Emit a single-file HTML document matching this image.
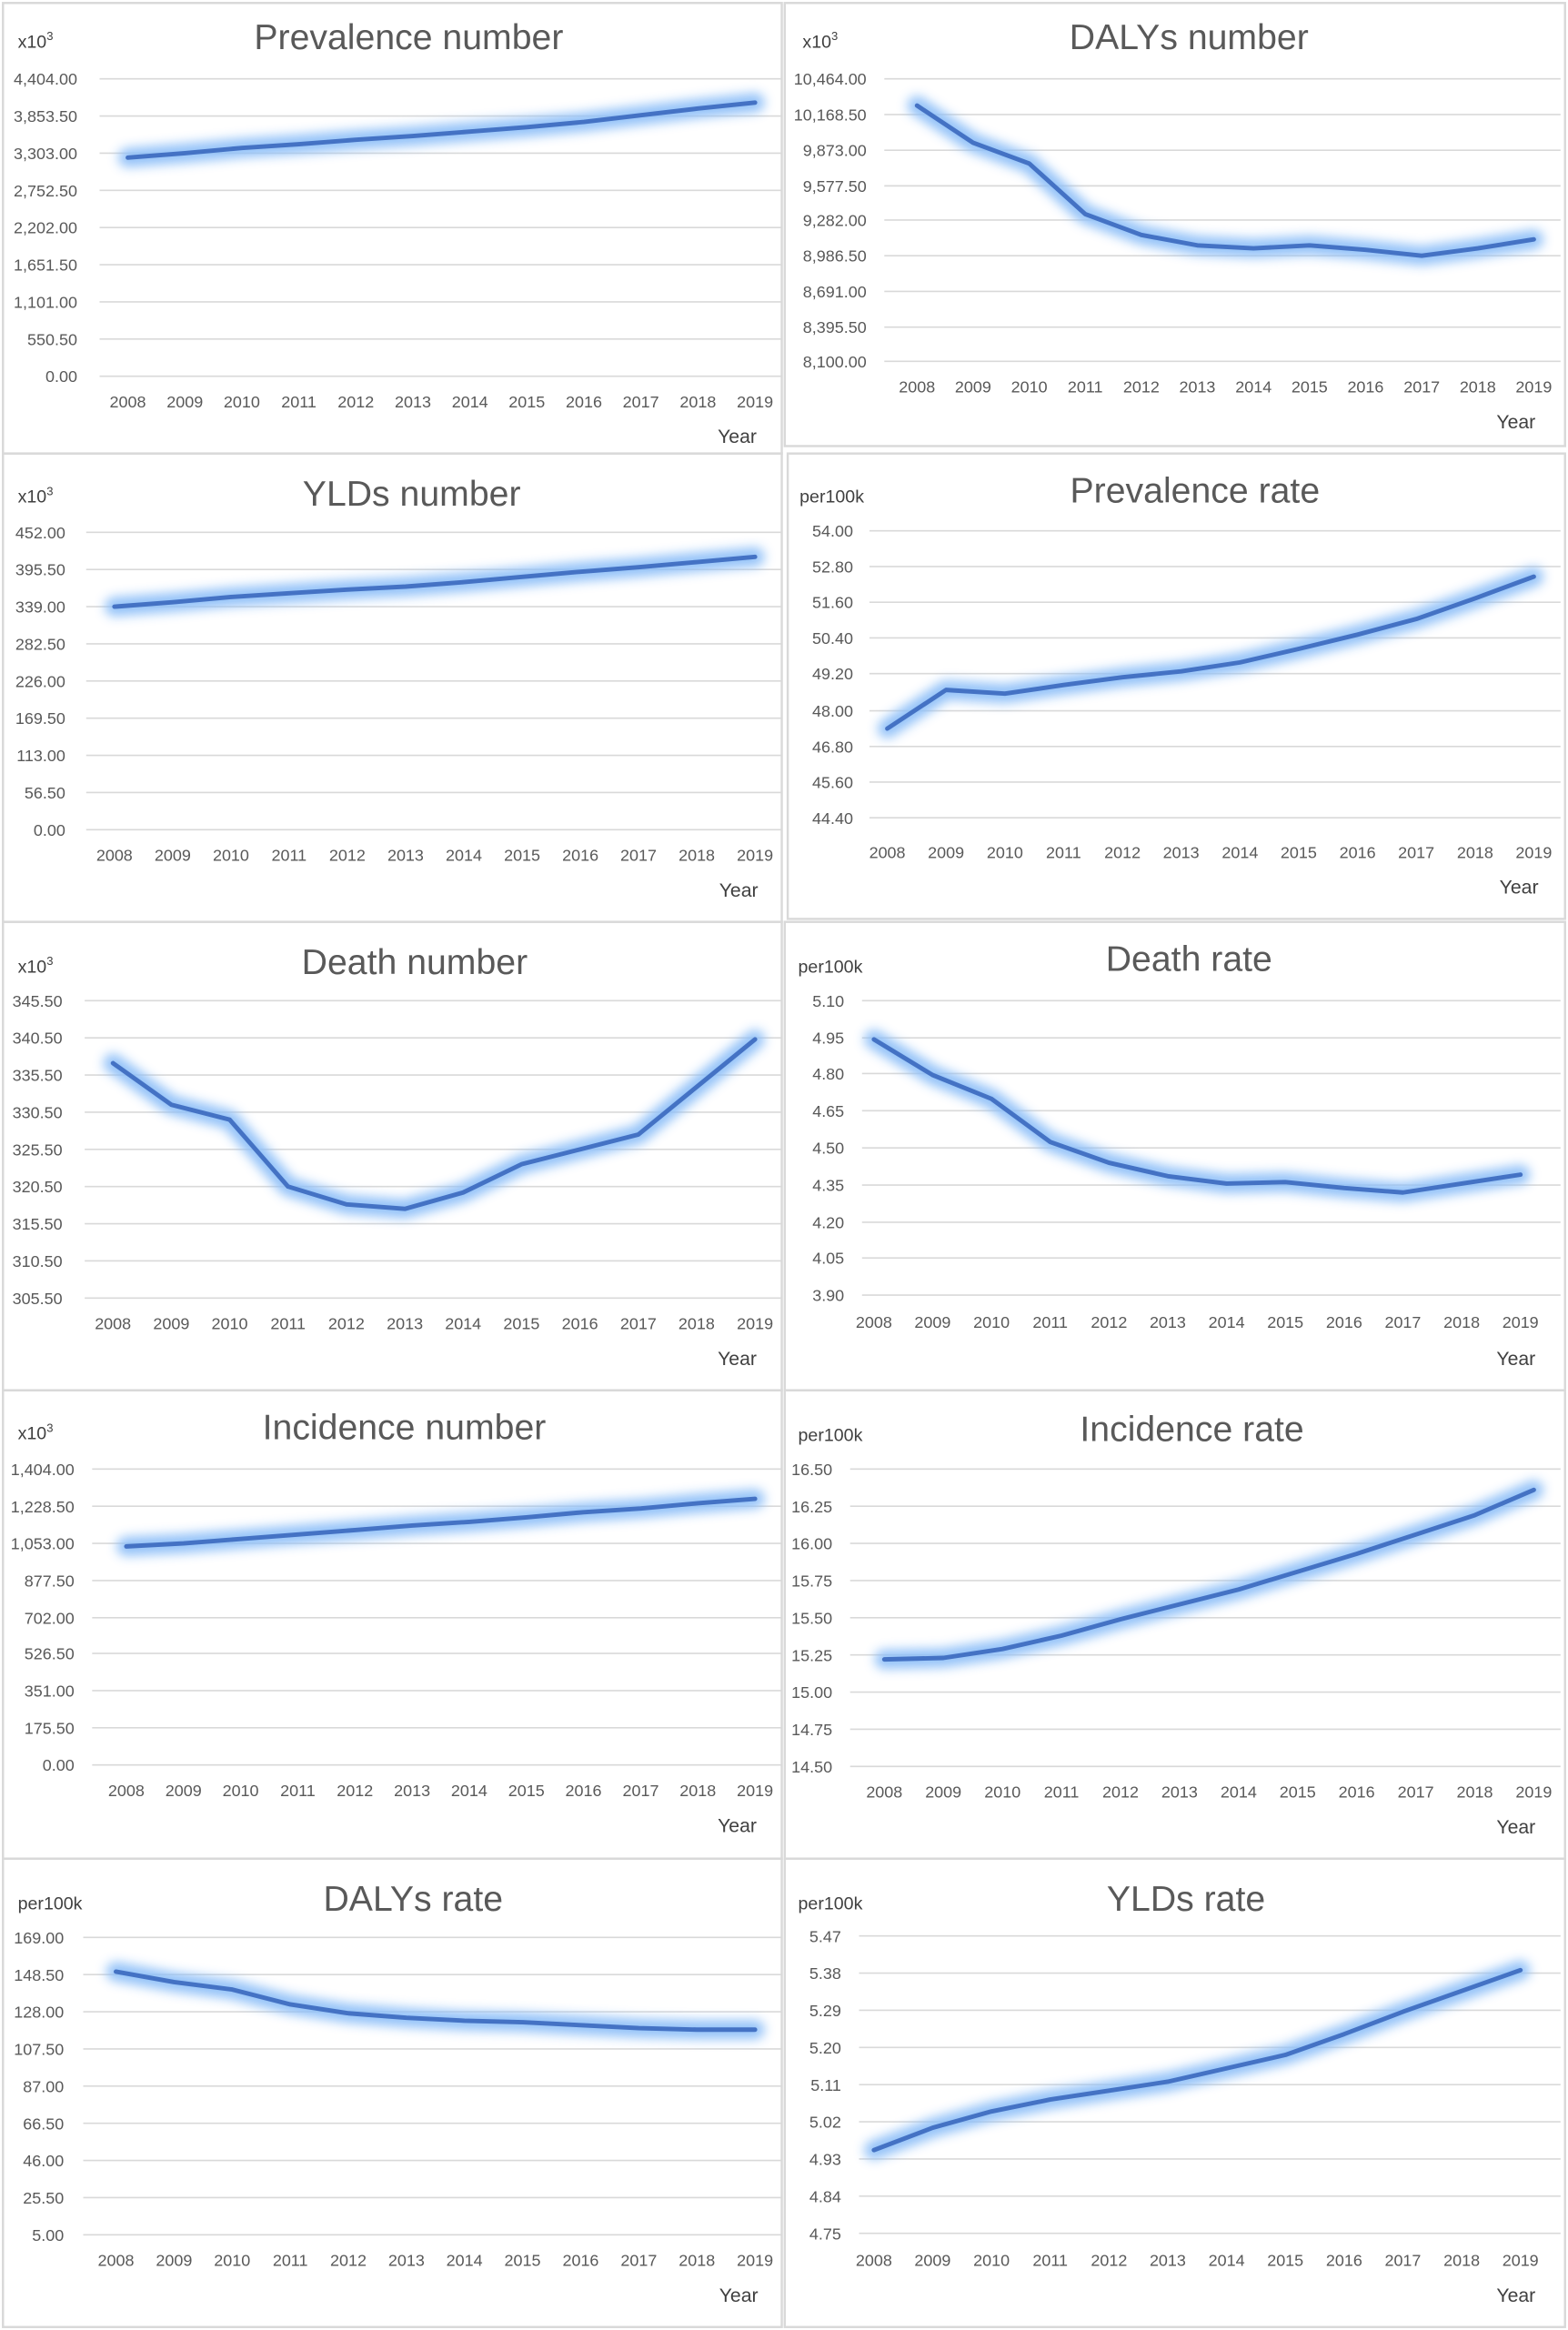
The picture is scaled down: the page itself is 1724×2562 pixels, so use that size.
<!DOCTYPE html>
<html><head><meta charset="utf-8"><style>
html,body{margin:0;padding:0;background:#fff}
svg{display:block}
.t{font-family:"Liberation Sans Narrow","Liberation Sans",sans-serif;fill:#595959;font-size:11px}
.y{text-anchor:end}
.x{text-anchor:middle}
.h{font-family:"Liberation Sans Narrow","Liberation Sans",sans-serif;fill:#595959;font-size:24px;text-anchor:middle}
.u{font-family:"Liberation Sans Narrow","Liberation Sans",sans-serif;fill:#404040;font-size:12px}
.yr{font-family:"Liberation Sans Narrow","Liberation Sans",sans-serif;fill:#404040;font-size:13px;text-anchor:middle}
.g{stroke:#d9d9d9;stroke-width:1}
.b{fill:none;stroke:#d9d9d9;stroke-width:1.5}
.gl{fill:none;stroke:#8fc0f8;stroke-width:13;stroke-linejoin:round;stroke-linecap:round;filter:url(#bl);opacity:.95}
.ln{fill:none;stroke:#4472c4;stroke-width:3;stroke-linejoin:round;stroke-linecap:round}
</style></head><body>
<svg width="1724" height="2562" viewBox="0 0 1055 1567" preserveAspectRatio="none" xmlns="http://www.w3.org/2000/svg">
<defs><filter id="bl" x="-10%" y="-50%" width="120%" height="200%"><feGaussianBlur stdDeviation="3.5"/></filter></defs>
<rect x="0" y="0" width="1055" height="1567" fill="#fff"/>

<!-- P1 -->
<rect class="b" x="2" y="2" width="524" height="303"/>
<text class="h" x="275" y="33">Prevalence number</text>
<text class="u" x="12" y="32">x10<tspan font-size="8" dy="-5">3</tspan></text>
<g class="g"><line x1="67" x2="526" y1="53" y2="53"/><line x1="67" x2="526" y1="78" y2="78"/><line x1="67" x2="526" y1="103" y2="103"/><line x1="67" x2="526" y1="128" y2="128"/><line x1="67" x2="526" y1="153" y2="153"/><line x1="67" x2="526" y1="178" y2="178"/><line x1="67" x2="526" y1="203" y2="203"/><line x1="67" x2="526" y1="228" y2="228"/><line x1="67" x2="526" y1="253" y2="253"/></g>
<g class="t y"><text x="52" y="57">4,404.00</text><text x="52" y="82">3,853.50</text><text x="52" y="107">3,303.00</text><text x="52" y="132">2,752.50</text><text x="52" y="157">2,202.00</text><text x="52" y="182">1,651.50</text><text x="52" y="207">1,101.00</text><text x="52" y="232">550.50</text><text x="52" y="257">0.00</text></g>
<g class="t x"><text x="86" y="274">2008</text><text x="124.4" y="274">2009</text><text x="162.7" y="274">2010</text><text x="201.1" y="274">2011</text><text x="239.4" y="274">2012</text><text x="277.8" y="274">2013</text><text x="316.2" y="274">2014</text><text x="354.5" y="274">2015</text><text x="392.9" y="274">2016</text><text x="431.2" y="274">2017</text><text x="469.6" y="274">2018</text><text x="508" y="274">2019</text></g>
<text class="yr" x="496" y="298">Year</text>
<polyline class="gl" points="86,106 124.4,103 162.7,99.5 201.1,97 239.4,94 277.8,91.5 316.2,88.5 354.5,85.5 392.9,82 431.2,77.5 469.6,73 508,69"/>
<polyline class="ln" points="86,106 124.4,103 162.7,99.5 201.1,97 239.4,94 277.8,91.5 316.2,88.5 354.5,85.5 392.9,82 431.2,77.5 469.6,73 508,69"/>

<!-- P2 -->
<rect class="b" x="528" y="2" width="525" height="298"/>
<text class="h" x="800" y="33">DALYs number</text>
<text class="u" x="540" y="32">x10<tspan font-size="8" dy="-5">3</tspan></text>
<g class="g"><line x1="595" x2="1050" y1="53" y2="53"/><line x1="595" x2="1050" y1="77" y2="77"/><line x1="595" x2="1050" y1="101" y2="101"/><line x1="595" x2="1050" y1="125" y2="125"/><line x1="595" x2="1050" y1="148" y2="148"/><line x1="595" x2="1050" y1="172" y2="172"/><line x1="595" x2="1050" y1="196" y2="196"/><line x1="595" x2="1050" y1="220" y2="220"/><line x1="595" x2="1050" y1="243" y2="243"/></g>
<g class="t y"><text x="583" y="57">10,464.00</text><text x="583" y="81">10,168.50</text><text x="583" y="105">9,873.00</text><text x="583" y="129">9,577.50</text><text x="583" y="152">9,282.00</text><text x="583" y="176">8,986.50</text><text x="583" y="200">8,691.00</text><text x="583" y="224">8,395.50</text><text x="583" y="247">8,100.00</text></g>
<g class="t x"><text x="617" y="264">2008</text><text x="654.7" y="264">2009</text><text x="692.5" y="264">2010</text><text x="730.2" y="264">2011</text><text x="767.9" y="264">2012</text><text x="805.6" y="264">2013</text><text x="843.4" y="264">2014</text><text x="881.1" y="264">2015</text><text x="918.8" y="264">2016</text><text x="956.6" y="264">2017</text><text x="994.3" y="264">2018</text><text x="1032" y="264">2019</text></g>
<text class="yr" x="1020" y="288">Year</text>
<polyline class="gl" points="617,71 654.7,96 692.5,110 730.2,144 767.9,158 805.6,165 843.4,167 881.1,165 918.8,168 956.6,172 994.3,167 1032,161"/>
<polyline class="ln" points="617,71 654.7,96 692.5,110 730.2,144 767.9,158 805.6,165 843.4,167 881.1,165 918.8,168 956.6,172 994.3,167 1032,161"/>

<!-- P3 -->
<rect class="b" x="2" y="305" width="524" height="315"/>
<text class="h" x="277" y="340">YLDs number</text>
<text class="u" x="12" y="338">x10<tspan font-size="8" dy="-5">3</tspan></text>
<g class="g"><line x1="58" x2="526" y1="358" y2="358"/><line x1="58" x2="526" y1="383" y2="383"/><line x1="58" x2="526" y1="408" y2="408"/><line x1="58" x2="526" y1="433" y2="433"/><line x1="58" x2="526" y1="458" y2="458"/><line x1="58" x2="526" y1="483" y2="483"/><line x1="58" x2="526" y1="508" y2="508"/><line x1="58" x2="526" y1="533" y2="533"/><line x1="58" x2="526" y1="558" y2="558"/></g>
<g class="t y"><text x="44" y="362">452.00</text><text x="44" y="387">395.50</text><text x="44" y="412">339.00</text><text x="44" y="437">282.50</text><text x="44" y="462">226.00</text><text x="44" y="487">169.50</text><text x="44" y="512">113.00</text><text x="44" y="537">56.50</text><text x="44" y="562">0.00</text></g>
<g class="t x"><text x="77" y="579">2008</text><text x="116.2" y="579">2009</text><text x="155.4" y="579">2010</text><text x="194.5" y="579">2011</text><text x="233.7" y="579">2012</text><text x="272.9" y="579">2013</text><text x="312.1" y="579">2014</text><text x="351.3" y="579">2015</text><text x="390.5" y="579">2016</text><text x="429.6" y="579">2017</text><text x="468.8" y="579">2018</text><text x="508" y="579">2019</text></g>
<text class="yr" x="497" y="603">Year</text>
<polyline class="gl" points="77,408 116.2,405 155.4,401.5 194.5,399 233.7,396.5 272.9,394.5 312.1,391.5 351.3,388 390.5,384.5 429.6,381.5 468.8,378 508,374.5"/>
<polyline class="ln" points="77,408 116.2,405 155.4,401.5 194.5,399 233.7,396.5 272.9,394.5 312.1,391.5 351.3,388 390.5,384.5 429.6,381.5 468.8,378 508,374.5"/>

<!-- P4 -->
<rect class="b" x="530" y="305" width="523" height="313"/>
<text class="h" x="804" y="338">Prevalence rate</text>
<text class="u" x="538" y="338">per100k</text>
<g class="g"><line x1="585" x2="1050" y1="357" y2="357"/><line x1="585" x2="1050" y1="381" y2="381"/><line x1="585" x2="1050" y1="405" y2="405"/><line x1="585" x2="1050" y1="429" y2="429"/><line x1="585" x2="1050" y1="453" y2="453"/><line x1="585" x2="1050" y1="478" y2="478"/><line x1="585" x2="1050" y1="502" y2="502"/><line x1="585" x2="1050" y1="526" y2="526"/><line x1="585" x2="1050" y1="550" y2="550"/></g>
<g class="t y"><text x="574" y="361">54.00</text><text x="574" y="385">52.80</text><text x="574" y="409">51.60</text><text x="574" y="433">50.40</text><text x="574" y="457">49.20</text><text x="574" y="482">48.00</text><text x="574" y="506">46.80</text><text x="574" y="530">45.60</text><text x="574" y="554">44.40</text></g>
<g class="t x"><text x="597" y="577">2008</text><text x="636.5" y="577">2009</text><text x="676.1" y="577">2010</text><text x="715.6" y="577">2011</text><text x="755.2" y="577">2012</text><text x="794.7" y="577">2013</text><text x="834.3" y="577">2014</text><text x="873.8" y="577">2015</text><text x="913.4" y="577">2016</text><text x="952.9" y="577">2017</text><text x="992.5" y="577">2018</text><text x="1032" y="577">2019</text></g>
<text class="yr" x="1022" y="601">Year</text>
<polyline class="gl" points="597,490 636.5,464 676.1,466.5 715.6,460.7 755.2,455.5 794.7,451.5 834.3,445.5 873.8,436.4 913.4,426.8 952.9,416.3 992.5,402.4 1032,387.8"/>
<polyline class="ln" points="597,490 636.5,464 676.1,466.5 715.6,460.7 755.2,455.5 794.7,451.5 834.3,445.5 873.8,436.4 913.4,426.8 952.9,416.3 992.5,402.4 1032,387.8"/>

<!-- P5 -->
<rect class="b" x="2" y="620" width="524" height="315"/>
<text class="h" x="279" y="655">Death number</text>
<text class="u" x="12" y="654">x10<tspan font-size="8" dy="-5">3</tspan></text>
<g class="g"><line x1="57" x2="526" y1="673" y2="673"/><line x1="57" x2="526" y1="698" y2="698"/><line x1="57" x2="526" y1="723" y2="723"/><line x1="57" x2="526" y1="748" y2="748"/><line x1="57" x2="526" y1="773" y2="773"/><line x1="57" x2="526" y1="798" y2="798"/><line x1="57" x2="526" y1="823" y2="823"/><line x1="57" x2="526" y1="848" y2="848"/><line x1="57" x2="526" y1="873" y2="873"/></g>
<g class="t y"><text x="42" y="677">345.50</text><text x="42" y="702">340.50</text><text x="42" y="727">335.50</text><text x="42" y="752">330.50</text><text x="42" y="777">325.50</text><text x="42" y="802">320.50</text><text x="42" y="827">315.50</text><text x="42" y="852">310.50</text><text x="42" y="877">305.50</text></g>
<g class="t x"><text x="76" y="894">2008</text><text x="115.3" y="894">2009</text><text x="154.5" y="894">2010</text><text x="193.8" y="894">2011</text><text x="233.1" y="894">2012</text><text x="272.4" y="894">2013</text><text x="311.6" y="894">2014</text><text x="350.9" y="894">2015</text><text x="390.2" y="894">2016</text><text x="429.5" y="894">2017</text><text x="468.7" y="894">2018</text><text x="508" y="894">2019</text></g>
<text class="yr" x="496" y="918">Year</text>
<polyline class="gl" points="76,715 115.3,743 154.5,753 193.8,798 233.1,810 272.4,813 311.6,802 350.9,783 390.2,773 429.5,763 468.7,731 508,699"/>
<polyline class="ln" points="76,715 115.3,743 154.5,753 193.8,798 233.1,810 272.4,813 311.6,802 350.9,783 390.2,773 429.5,763 468.7,731 508,699"/>

<!-- P6 -->
<rect class="b" x="528" y="620" width="525" height="315"/>
<text class="h" x="800" y="653">Death rate</text>
<text class="u" x="537" y="654">per100k</text>
<g class="g"><line x1="580" x2="1050" y1="673" y2="673"/><line x1="580" x2="1050" y1="698" y2="698"/><line x1="580" x2="1050" y1="722" y2="722"/><line x1="580" x2="1050" y1="747" y2="747"/><line x1="580" x2="1050" y1="772" y2="772"/><line x1="580" x2="1050" y1="797" y2="797"/><line x1="580" x2="1050" y1="822" y2="822"/><line x1="580" x2="1050" y1="846" y2="846"/><line x1="580" x2="1050" y1="871" y2="871"/></g>
<g class="t y"><text x="568" y="677">5.10</text><text x="568" y="702">4.95</text><text x="568" y="726">4.80</text><text x="568" y="751">4.65</text><text x="568" y="776">4.50</text><text x="568" y="801">4.35</text><text x="568" y="826">4.20</text><text x="568" y="850">4.05</text><text x="568" y="875">3.90</text></g>
<g class="t x"><text x="588" y="893">2008</text><text x="627.5" y="893">2009</text><text x="667.1" y="893">2010</text><text x="706.6" y="893">2011</text><text x="746.2" y="893">2012</text><text x="785.7" y="893">2013</text><text x="825.3" y="893">2014</text><text x="864.8" y="893">2015</text><text x="904.4" y="893">2016</text><text x="943.9" y="893">2017</text><text x="983.5" y="893">2018</text><text x="1023" y="893">2019</text></g>
<text class="yr" x="1020" y="918">Year</text>
<polyline class="gl" points="588,699 627.5,723 667.1,739 706.6,768 746.2,782 785.7,791 825.3,796 864.8,795 904.4,799 943.9,802 983.5,796 1023,790"/>
<polyline class="ln" points="588,699 627.5,723 667.1,739 706.6,768 746.2,782 785.7,791 825.3,796 864.8,795 904.4,799 943.9,802 983.5,796 1023,790"/>

<!-- P7 -->
<rect class="b" x="2" y="935" width="524" height="315"/>
<text class="h" x="272" y="968">Incidence number</text>
<text class="u" x="12" y="968">x10<tspan font-size="8" dy="-5">3</tspan></text>
<g class="g"><line x1="62" x2="526" y1="988" y2="988"/><line x1="62" x2="526" y1="1013" y2="1013"/><line x1="62" x2="526" y1="1038" y2="1038"/><line x1="62" x2="526" y1="1063" y2="1063"/><line x1="62" x2="526" y1="1088" y2="1088"/><line x1="62" x2="526" y1="1112" y2="1112"/><line x1="62" x2="526" y1="1137" y2="1137"/><line x1="62" x2="526" y1="1162" y2="1162"/><line x1="62" x2="526" y1="1187" y2="1187"/></g>
<g class="t y"><text x="50" y="992">1,404.00</text><text x="50" y="1017">1,228.50</text><text x="50" y="1042">1,053.00</text><text x="50" y="1067">877.50</text><text x="50" y="1092">702.00</text><text x="50" y="1116">526.50</text><text x="50" y="1141">351.00</text><text x="50" y="1166">175.50</text><text x="50" y="1191">0.00</text></g>
<g class="t x"><text x="85" y="1208">2008</text><text x="123.5" y="1208">2009</text><text x="161.9" y="1208">2010</text><text x="200.4" y="1208">2011</text><text x="238.8" y="1208">2012</text><text x="277.3" y="1208">2013</text><text x="315.7" y="1208">2014</text><text x="354.2" y="1208">2015</text><text x="392.6" y="1208">2016</text><text x="431.1" y="1208">2017</text><text x="469.5" y="1208">2018</text><text x="508" y="1208">2019</text></g>
<text class="yr" x="496" y="1232">Year</text>
<polyline class="gl" points="85,1040 123.5,1038 161.9,1035 200.4,1032 238.8,1029 277.3,1026 315.7,1023.5 354.2,1020.5 392.6,1017 431.1,1014.5 469.5,1011 508,1008"/>
<polyline class="ln" points="85,1040 123.5,1038 161.9,1035 200.4,1032 238.8,1029 277.3,1026 315.7,1023.5 354.2,1020.5 392.6,1017 431.1,1014.5 469.5,1011 508,1008"/>

<!-- P8 -->
<rect class="b" x="528" y="935" width="525" height="315"/>
<text class="h" x="802" y="969">Incidence rate</text>
<text class="u" x="537" y="969">per100k</text>
<g class="g"><line x1="572" x2="1050" y1="988" y2="988"/><line x1="572" x2="1050" y1="1013" y2="1013"/><line x1="572" x2="1050" y1="1038" y2="1038"/><line x1="572" x2="1050" y1="1063" y2="1063"/><line x1="572" x2="1050" y1="1088" y2="1088"/><line x1="572" x2="1050" y1="1113" y2="1113"/><line x1="572" x2="1050" y1="1138" y2="1138"/><line x1="572" x2="1050" y1="1163" y2="1163"/><line x1="572" x2="1050" y1="1188" y2="1188"/></g>
<g class="t y"><text x="560" y="992">16.50</text><text x="560" y="1017">16.25</text><text x="560" y="1042">16.00</text><text x="560" y="1067">15.75</text><text x="560" y="1092">15.50</text><text x="560" y="1117">15.25</text><text x="560" y="1142">15.00</text><text x="560" y="1167">14.75</text><text x="560" y="1192">14.50</text></g>
<g class="t x"><text x="595" y="1209">2008</text><text x="634.7" y="1209">2009</text><text x="674.5" y="1209">2010</text><text x="714.2" y="1209">2011</text><text x="753.9" y="1209">2012</text><text x="793.6" y="1209">2013</text><text x="833.4" y="1209">2014</text><text x="873.1" y="1209">2015</text><text x="912.8" y="1209">2016</text><text x="952.6" y="1209">2017</text><text x="992.3" y="1209">2018</text><text x="1032" y="1209">2019</text></g>
<text class="yr" x="1020" y="1233">Year</text>
<polyline class="gl" points="595,1116 634.7,1115 674.5,1109 714.2,1100 753.9,1089 793.6,1079 833.4,1069 873.1,1057 912.8,1045 952.6,1032 992.3,1019 1032,1002"/>
<polyline class="ln" points="595,1116 634.7,1115 674.5,1109 714.2,1100 753.9,1089 793.6,1079 833.4,1069 873.1,1057 912.8,1045 952.6,1032 992.3,1019 1032,1002"/>

<!-- P9 -->
<rect class="b" x="2" y="1250" width="524" height="315"/>
<text class="h" x="278" y="1285">DALYs rate</text>
<text class="u" x="12" y="1284">per100k</text>
<g class="g"><line x1="56" x2="526" y1="1303" y2="1303"/><line x1="56" x2="526" y1="1328" y2="1328"/><line x1="56" x2="526" y1="1353" y2="1353"/><line x1="56" x2="526" y1="1378" y2="1378"/><line x1="56" x2="526" y1="1403" y2="1403"/><line x1="56" x2="526" y1="1428" y2="1428"/><line x1="56" x2="526" y1="1453" y2="1453"/><line x1="56" x2="526" y1="1478" y2="1478"/><line x1="56" x2="526" y1="1503" y2="1503"/></g>
<g class="t y"><text x="43" y="1307">169.00</text><text x="43" y="1332">148.50</text><text x="43" y="1357">128.00</text><text x="43" y="1382">107.50</text><text x="43" y="1407">87.00</text><text x="43" y="1432">66.50</text><text x="43" y="1457">46.00</text><text x="43" y="1482">25.50</text><text x="43" y="1507">5.00</text></g>
<g class="t x"><text x="78" y="1524">2008</text><text x="117.1" y="1524">2009</text><text x="156.2" y="1524">2010</text><text x="195.3" y="1524">2011</text><text x="234.4" y="1524">2012</text><text x="273.5" y="1524">2013</text><text x="312.5" y="1524">2014</text><text x="351.6" y="1524">2015</text><text x="390.7" y="1524">2016</text><text x="429.8" y="1524">2017</text><text x="468.9" y="1524">2018</text><text x="508" y="1524">2019</text></g>
<text class="yr" x="497" y="1548">Year</text>
<polyline class="gl" points="78,1326 117.1,1333 156.2,1338 195.3,1348 234.4,1354 273.5,1357 312.5,1359 351.6,1360 390.7,1362 429.8,1364 468.9,1365 508,1365"/>
<polyline class="ln" points="78,1326 117.1,1333 156.2,1338 195.3,1348 234.4,1354 273.5,1357 312.5,1359 351.6,1360 390.7,1362 429.8,1364 468.9,1365 508,1365"/>

<!-- P10 -->
<rect class="b" x="528" y="1250" width="525" height="315"/>
<text class="h" x="798" y="1285">YLDs rate</text>
<text class="u" x="537" y="1284">per100k</text>
<g class="g"><line x1="578" x2="1050" y1="1302" y2="1302"/><line x1="578" x2="1050" y1="1327" y2="1327"/><line x1="578" x2="1050" y1="1352" y2="1352"/><line x1="578" x2="1050" y1="1377" y2="1377"/><line x1="578" x2="1050" y1="1402" y2="1402"/><line x1="578" x2="1050" y1="1427" y2="1427"/><line x1="578" x2="1050" y1="1452" y2="1452"/><line x1="578" x2="1050" y1="1477" y2="1477"/><line x1="578" x2="1050" y1="1502" y2="1502"/></g>
<g class="t y"><text x="566" y="1306">5.47</text><text x="566" y="1331">5.38</text><text x="566" y="1356">5.29</text><text x="566" y="1381">5.20</text><text x="566" y="1406">5.11</text><text x="566" y="1431">5.02</text><text x="566" y="1456">4.93</text><text x="566" y="1481">4.84</text><text x="566" y="1506">4.75</text></g>
<g class="t x"><text x="588" y="1524">2008</text><text x="627.5" y="1524">2009</text><text x="667.1" y="1524">2010</text><text x="706.6" y="1524">2011</text><text x="746.2" y="1524">2012</text><text x="785.7" y="1524">2013</text><text x="825.3" y="1524">2014</text><text x="864.8" y="1524">2015</text><text x="904.4" y="1524">2016</text><text x="943.9" y="1524">2017</text><text x="983.5" y="1524">2018</text><text x="1023" y="1524">2019</text></g>
<text class="yr" x="1020" y="1548">Year</text>
<polyline class="gl" points="588,1446 627.5,1431 667.1,1420 706.6,1412 746.2,1406 785.7,1400 825.3,1391 864.8,1382 904.4,1368 943.9,1353 983.5,1339 1023,1325"/>
<polyline class="ln" points="588,1446 627.5,1431 667.1,1420 706.6,1412 746.2,1406 785.7,1400 825.3,1391 864.8,1382 904.4,1368 943.9,1353 983.5,1339 1023,1325"/>
</svg>
</body></html>
